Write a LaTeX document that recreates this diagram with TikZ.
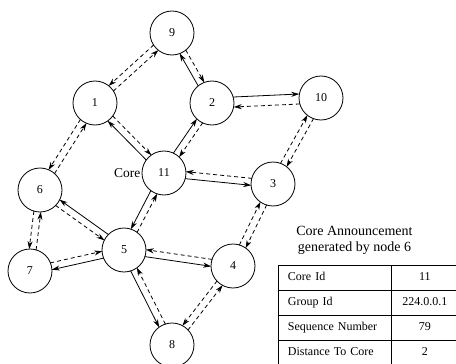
\documentclass[tikz,border=0pt]{standalone}
\usepackage{fontspec}
\setmainfont{Liberation Serif}
\usetikzlibrary{matrix,positioning,calc,arrows.meta}

% two opposite links between a pair of routers, shifted to one side
\newcommand{\duo}[5]{%
  \draw[#3] ($(#1.center)!#5!-90:(#2.center)$) -- ($(#2.center)!#5!90:(#1.center)$);
  \draw[#4] ($(#2.center)!#5!-90:(#1.center)$) -- ($(#1.center)!#5!90:(#2.center)$);
}

\begin{document}
\begin{tikzpicture}[x=1pt,y=-1pt,
  router/.style={circle,draw,line width=0.8pt,minimum size=44pt,
    inner sep=0pt,font=\fontsize{12}{14}\selectfont},
  link/.style={line width=0.8pt,shorten <=21.5pt,shorten >=21.5pt,
    -{Stealth[length=8pt,width=5pt,inset=2.5pt]}},
  sol/.style={link},
  dsh/.style={link,dash pattern=on 4pt off 3pt},
  tab/.style={matrix of nodes,
    column sep=-0.8pt,
    row sep=-0.8pt,
    nodes={draw,line width=0.8pt,minimum height=25pt,text height=9pt,
      text depth=3pt,inner xsep=10pt,font=\fontsize{12}{14}\selectfont},
    column 1/.style={nodes={text width=93pt,align=left}},
    column 2/.style={nodes={minimum width=68pt}}}]

 \useasboundingbox (0,0) rectangle (456,364);

 \node[router] (n9)  at (172,33)  {9};
 \node[router] (n1)  at (95,103)  {1};
 \node[router] (n2)  at (212,103) {2};
 \node[router] (n10) at (321,98)  {10};
 \node[router] (n11) at (164,173) {11};
 \node[router] (n3)  at (273,184) {3};
 \node[router] (n6)  at (40,190)  {6};
 \node[router] (n5)  at (124,250) {5};
 \node[router] (n7)  at (30,271)  {7};
 \node[router] (n4)  at (233,266) {4};
 \node[router] (n8)  at (172,345) {8};
 \node[left=0pt of n11,inner sep=1pt,font=\fontsize{13.5}{16}\selectfont] (corelbl) {Core};

 \duo{n1}{n9}{dsh}{dsh}{3.5pt}
 \duo{n9}{n2}{dsh}{sol}{-3.5pt}
 \duo{n1}{n11}{dsh}{sol}{-3.5pt}
 \duo{n11}{n2}{sol}{dsh}{-3.5pt}
 \duo{n1}{n6}{dsh}{dsh}{3.5pt}
 \duo{n11}{n3}{sol}{dsh}{3.5pt}
 \duo{n2}{n10}{sol}{dsh}{-5pt}
 \duo{n3}{n10}{dsh}{dsh}{-3.5pt}
 \duo{n4}{n3}{dsh}{dsh}{-3.5pt}
 \duo{n6}{n5}{dsh}{sol}{3.5pt}
 \duo{n6}{n7}{dsh}{dsh}{3.5pt}
 \duo{n7}{n5}{dsh}{sol}{-3.5pt}
 \duo{n11}{n5}{sol}{dsh}{3.5pt}
 \duo{n5}{n4}{sol}{dsh}{3.5pt}
 \duo{n8}{n5}{dsh}{sol}{3.5pt}
 \duo{n8}{n4}{dsh}{dsh}{3.5pt}

 \matrix[tab,anchor=north west] (tbl) at (274,261) {
   Core Id          & 11 \\
   Group Id         & 224.0.0.1 \\
   Sequence Number  & 79 \\
   Distance To Core & 2 \\
 };
 \draw[line width=1.4pt] (tbl-2-1.south west) -- (tbl-2-2.south east);
 \node[above=3pt of tbl,xshift=-14pt,align=center,
   font=\fontsize{14}{16}\selectfont] (title) {Core Announcement\\generated by node 6};

\end{tikzpicture}
\end{document}
